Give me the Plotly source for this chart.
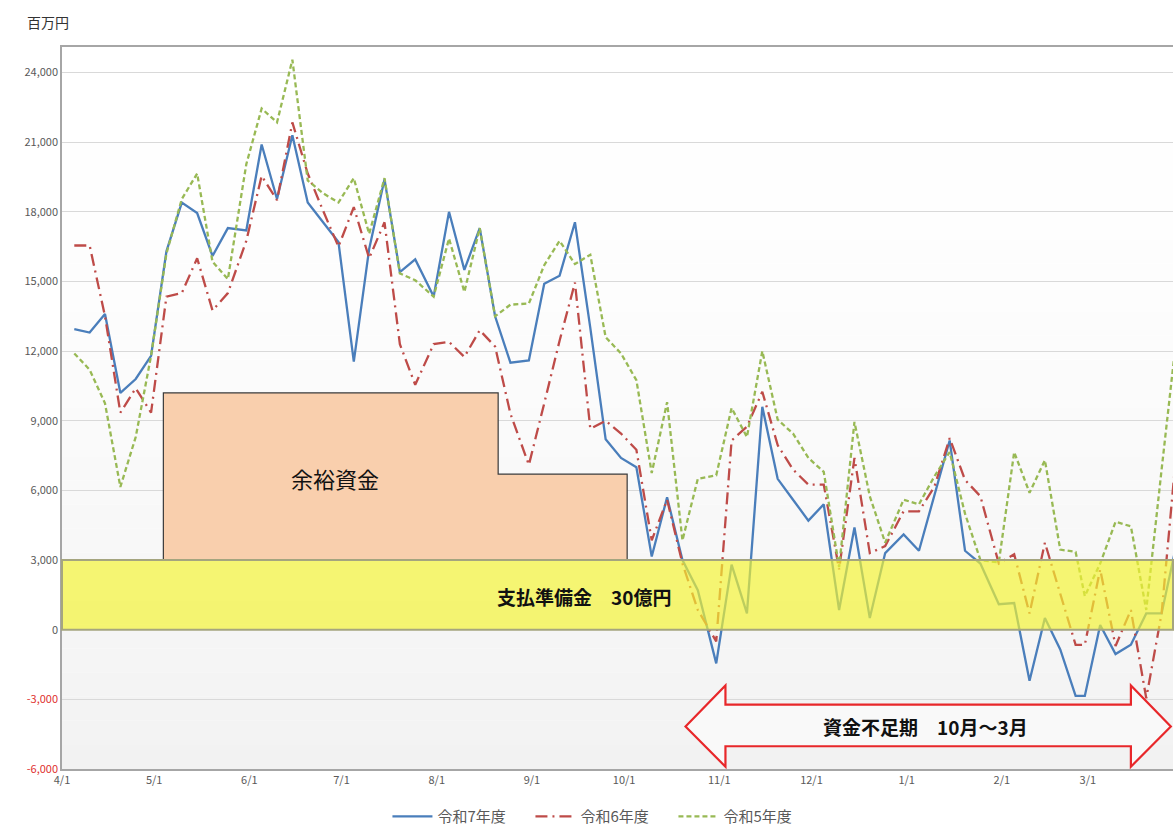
import plotly.graph_objects as go

# ---- data -------------------------------------------------------------
dates = [
    "2025-04-05", "2025-04-10", "2025-04-15", "2025-04-20", "2025-04-25", "2025-04-30",
    "2025-05-05", "2025-05-10", "2025-05-15", "2025-05-20", "2025-05-25", "2025-05-31",
    "2025-06-05", "2025-06-10", "2025-06-15", "2025-06-20", "2025-06-25", "2025-06-30",
    "2025-07-05", "2025-07-10", "2025-07-15", "2025-07-20", "2025-07-25", "2025-07-31",
    "2025-08-05", "2025-08-10", "2025-08-15", "2025-08-20", "2025-08-25", "2025-08-31",
    "2025-09-05", "2025-09-10", "2025-09-15", "2025-09-20", "2025-09-25", "2025-09-30",
    "2025-10-05", "2025-10-10", "2025-10-15", "2025-10-20", "2025-10-25", "2025-10-31",
    "2025-11-05", "2025-11-10", "2025-11-15", "2025-11-20", "2025-11-25", "2025-11-30",
    "2025-12-05", "2025-12-10", "2025-12-15", "2025-12-20", "2025-12-25", "2025-12-31",
    "2026-01-05", "2026-01-10", "2026-01-15", "2026-01-20", "2026-01-25", "2026-01-31",
    "2026-02-05", "2026-02-10", "2026-02-15", "2026-02-20", "2026-02-25", "2026-02-28",
    "2026-03-05", "2026-03-10", "2026-03-15", "2026-03-20", "2026-03-25", "2026-03-31",
]

r7 = [
    12950, 12800, 13600, 10200, 10800, 11800,
    16300, 18400, 17950, 16100, 17300, 17200,
    20900, 18550, 21300, 18400, 17550, 16700,
    11550, 16400, 19400, 15400, 15950, 14350,
    18000, 15500, 17300, 13500, 11500, 11600,
    14900, 15250, 17550, 13000, 8200, 7400,
    7000, 3150, 5700, 3000, 1700, -1450,
    2800, 700, 9600, 6500, 5600, 4700,
    5400, 850, 4400, 500, 3300, 4100,
    3400, 5800, 8150, 3400, 2850, 1100,
    1150, -2200, 500, -850, -2850, -2850,
    200, -1050, -650, 700, 700, 4400,
]

r6 = [
    16550, 16550, 13500, 9350, 10400, 9350,
    14350, 14500, 16000, 13750, 14500, 16750,
    19550, 18500, 21850, 19650, 18050, 16500,
    18200, 16000, 17550, 12300, 10550, 12300,
    12400, 11750, 12900, 12200, 9300, 7100,
    9750, 12450, 14950, 8650, 9000, 8450,
    7750, 3850, 5600, 2850, 850, -500,
    8150, 8750, 10250, 7950, 6900, 6250,
    6250, 2600, 7400, 3300, 3600, 5100,
    5100, 6150, 8250, 6450, 5750, 2850,
    3250, 700, 3750, 1600, -650, -650,
    2600, -700, 850, -2950, 700, 9400,
]

r5 = [
    11900, 11200, 9750, 6150, 8300, 11800,
    16200, 18550, 19650, 15850, 15100, 20050,
    22450, 21850, 24550, 19350, 18800, 18400,
    19450, 17050, 19450, 15350, 15050, 14350,
    16850, 14550, 17300, 13500, 14000, 14050,
    15700, 16750, 15750, 16150, 12600, 11900,
    10750, 6750, 9800, 3850, 6500, 6650,
    9550, 8300, 12000, 9050, 8450, 7400,
    6800, 2700, 8950, 5750, 3750, 5600,
    5400, 6600, 7650, 5000, 3000, 2900,
    7650, 5900, 7300, 3450, 3350, 1450,
    2850, 4650, 4450, 850, 6900, 14000,
]

series_names = ["令和7年度", "令和6年度", "令和5年度"]

month_ticks = ["2025-04-01", "2025-05-01", "2025-06-01", "2025-07-01", "2025-08-01",
               "2025-09-01", "2025-10-01", "2025-11-01", "2025-12-01", "2026-01-01",
               "2026-02-01", "2026-03-01"]
month_labels = ["4/1", "5/1", "6/1", "7/1", "8/1", "9/1", "10/1", "11/1", "12/1",
                "1/1", "2/1", "3/1"]

y_ticks = [-6000, -3000, 0, 3000, 6000, 9000, 12000, 15000, 18000, 21000, 24000]

# annotation geometry (data units)
reserve_level = 3000
surplus_x = ["2025-05-04", "2025-08-21", "2025-10-02"]
surplus_levels = [10200, 6700]
arrow_x = ["2025-10-21", "2025-11-03", "2026-03-15", "2026-03-28"]
arrow_y = [-2400, -3230, -4170, -5020, -5900]

# ---- figure -------------------------------------------------------------
FONT = "Noto Sans CJK JP"
fig = go.Figure()

styles = [
    dict(color="#4a7ebb", width=2.3, dash="solid"),
    dict(color="#be4b48", width=2.3, dash="12px,5px,2px,5px"),
    dict(color="#98b954", width=2.3, dash="5px,3px"),
]
for name, vals, st in zip(series_names, [r7, r6, r5], styles):
    fig.add_trace(go.Scatter(x=dates, y=vals, mode="lines", name=name, line=st))

shapes = []
# background gradient
n = 30
for i in range(n):
    t = i / (n - 1)
    g = int(round(255 - 13 * (1 - t) ** 1.6))
    shapes.append(dict(type="rect", xref="paper", yref="paper", x0=0, x1=1,
                       y0=i / n, y1=(i + 1) / n, layer="below",
                       fillcolor=f"rgb({g},{g},{g})", line=dict(width=0)))

# surplus funds box
p = (f"M {surplus_x[0]},{reserve_level} L {surplus_x[0]},{surplus_levels[0]} "
     f"L {surplus_x[1]},{surplus_levels[0]} L {surplus_x[1]},{surplus_levels[1]} "
     f"L {surplus_x[2]},{surplus_levels[1]} L {surplus_x[2]},{reserve_level} Z")
shapes.append(dict(type="path", path=p, xref="x", yref="y", layer="above",
                   fillcolor="#f9cfad", line=dict(color="#3a3a3a", width=1.2)))
# reserve band
shapes.append(dict(type="rect", xref="paper", yref="y", x0=0, x1=1,
                   y0=0, y1=reserve_level, layer="above",
                   fillcolor="rgba(243,243,50,0.68)",
                   line=dict(color="#a5a57f", width=2)))
# double arrow
ax0, ax1, ax2, ax3 = arrow_x
yh, yb, ym, yb2, yh2 = arrow_y
ap = (f"M {ax0},{ym} L {ax1},{yh} L {ax1},{yb} L {ax2},{yb} L {ax2},{yh} "
      f"L {ax3},{ym} L {ax2},{yh2} L {ax2},{yb2} L {ax1},{yb2} L {ax1},{yh2} Z")
shapes.append(dict(type="path", path=ap, xref="x", yref="y", layer="above",
                   fillcolor="#f9f9f9", line=dict(color="#e8272a", width=2.2)))

annotations = [
    dict(text="百万円", xref="paper", yref="paper", x=-0.033, y=1.034,
         xanchor="left", yanchor="middle", showarrow=False,
         font=dict(family=FONT, size=14, color="#333333")),
    dict(text="余裕資金", x="2025-06-29", y=6540, xref="x", yref="y",
         showarrow=False, font=dict(family=FONT, size=22, color="#111111")),
    dict(text="<b>支払準備金　30億円</b>", x="2025-09-18", y=1420, xref="x", yref="y",
         showarrow=False, font=dict(family=FONT, size=19, color="#111111")),
    dict(text="<b>資金不足期　10月～3月</b>", x="2026-01-07", y=-4170, xref="x", yref="y",
         showarrow=False, font=dict(family=FONT, size=19, color="#111111")),
]

ytext = []
for v in y_ticks:
    s = f"{v:,}"
    ytext.append(f"<span style='color:#e03030'>{s}</span>" if v < 0 else s)

fig.update_layout(
    width=1174, height=825,
    margin=dict(l=62, r=1, t=47, b=56, autoexpand=False),
    paper_bgcolor="white", plot_bgcolor="white",
    font=dict(family=FONT, color="#595959"),
    shapes=shapes, annotations=annotations,
    showlegend=True,
    legend=dict(orientation="h", x=0.486, xanchor="center", y=-0.066, yanchor="middle",
                font=dict(family=FONT, size=15, color="#595959"),
                itemwidth=40, entrywidth=88, entrywidthmode="pixels",
                bgcolor="rgba(0,0,0,0)"),
    xaxis=dict(type="date", range=["2025-04-01", "2026-03-28T17:00"],
               tickvals=month_ticks, ticktext=month_labels, automargin=False,
               tickfont=dict(family=FONT, size=11, color="#595959"),
               showgrid=False, zeroline=False, showline=True, mirror=True,
               linecolor="#a6a6a6", linewidth=1.5, ticks=""),
    yaxis=dict(range=[-6000, 25100], tickvals=y_ticks, ticktext=ytext, automargin=False,
               tickfont=dict(family=FONT, size=11, color="#595959"),
               showgrid=True, gridcolor="#d9d9d9", gridwidth=1, zeroline=False,
               showline=True, linecolor="#a6a6a6", linewidth=1.5, ticks=""),
)

fig.write_html(
    "out.html",
    config={"displayModeBar": False},
    post_script="document.body.style.margin='0';document.body.style.overflow='hidden';",
)
